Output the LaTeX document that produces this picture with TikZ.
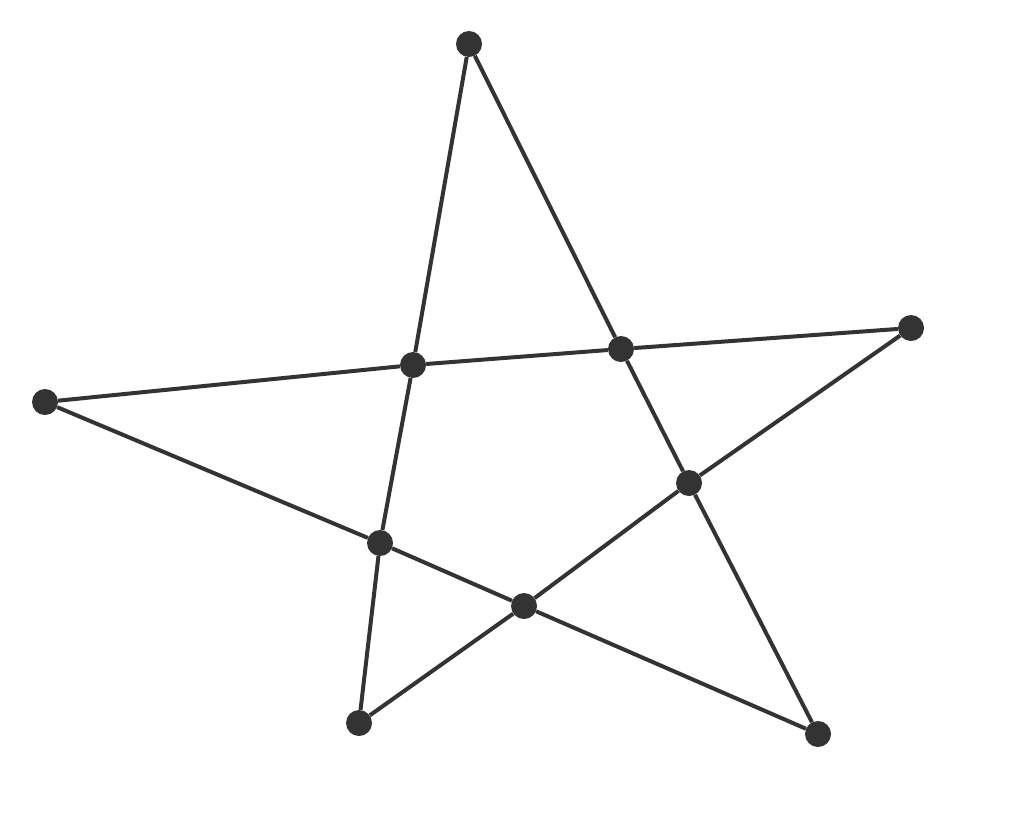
\documentclass[tikz,border=0pt]{standalone}
\begin{document}
\begin{tikzpicture}[x=1pt,y=-1pt,
  dot/.style={circle,fill=black!80,inner sep=0pt,minimum size=26pt},
  edge/.style={draw=black!80,line width=4pt}]
\useasboundingbox (0,0) rectangle (1024,820);
\node[dot] (T) at (469,44) {};
\node[dot] (R) at (911,328) {};
\node[dot] (L) at (45,402) {};
\node[dot] (BL) at (359,723) {};
\node[dot] (BR) at (818,734) {};
\node[dot] (i1) at (413,365) {};
\node[dot] (i2) at (621,349) {};
\node[dot] (i3) at (689,483) {};
\node[dot] (i4) at (380,543) {};
\node[dot] (i5) at (524,606) {};
\path[edge] (T) -- (i1) -- (i4) -- (BL);
\path[edge] (T) -- (i2) -- (i3) -- (BR);
\path[edge] (L) -- (i1) -- (i2) -- (R);
\path[edge] (L) -- (i4) -- (i5) -- (BR);
\path[edge] (R) -- (i3) -- (i5) -- (BL);
\end{tikzpicture}
\end{document}
